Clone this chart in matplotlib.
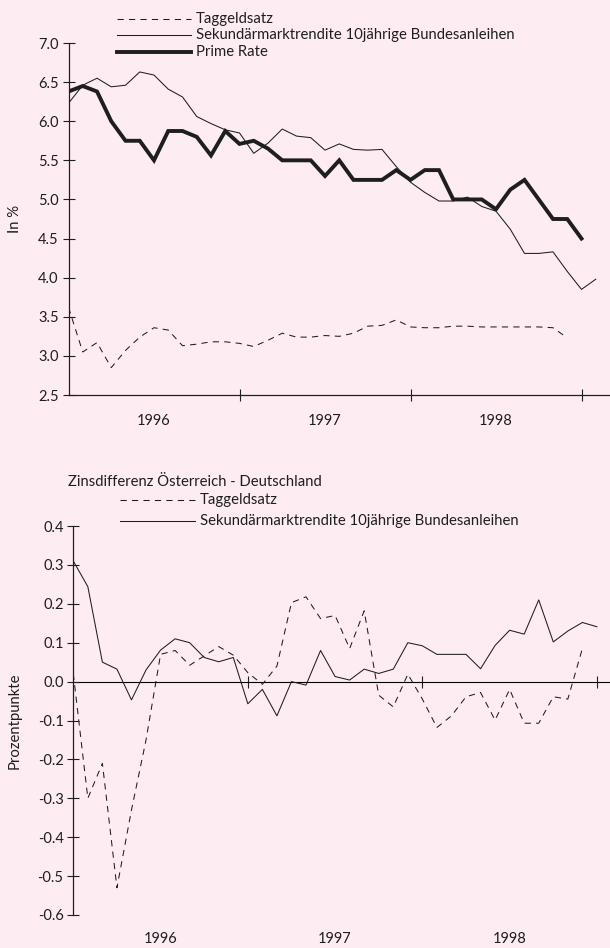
import matplotlib
matplotlib.use("Agg")
import matplotlib.pyplot as plt
from matplotlib.lines import Line2D
import numpy as np

plt.rcParams['font.family'] = ['Lato', 'DejaVu Sans']
plt.rcParams['axes.unicode_minus'] = False

# ---------------- data ----------------
year_labels = ["1996", "1997", "1998"]
year_bounds = [12, 24, 36]          # month index of year boundaries
year_mids = [6, 18, 30]

# Top chart (in %), monthly from Jan 1996
taggeld = [3.62, 3.05, 3.17, 2.85, 3.07, 3.24, 3.36, 3.33, 3.13, 3.15,
           3.18, 3.18, 3.16, 3.12, 3.20, 3.29, 3.24, 3.24, 3.26, 3.25,
           3.29, 3.38, 3.39, 3.46, 3.37, 3.36, 3.36, 3.38, 3.38, 3.37,
           3.37, 3.37, 3.37, 3.37, 3.36, 3.23]
sekundaer = [6.23, 6.46, 6.55, 6.44, 6.46, 6.63, 6.59, 6.41, 6.31, 6.06,
             5.97, 5.89, 5.85, 5.59, 5.72, 5.90, 5.81, 5.79, 5.63, 5.71,
             5.64, 5.63, 5.64, 5.42, 5.22, 5.09, 4.98, 4.98, 5.03, 4.91,
             4.85, 4.62, 4.31, 4.31, 4.33, 4.08, 3.85, 3.98]
prime = [6.38, 6.45, 6.38, 6.00, 5.75, 5.75, 5.50, 5.875, 5.875, 5.80,
         5.5625, 5.875, 5.71, 5.75, 5.65, 5.50, 5.50, 5.50, 5.30, 5.50,
         5.25, 5.25, 5.25, 5.375, 5.25, 5.375, 5.375, 5.00, 5.00, 5.00,
         4.875, 5.125, 5.25, 5.00, 4.75, 4.75, 4.50]

# Bottom chart (Prozentpunkte)
diff_taggeld = [0.02, -0.30, -0.21, -0.53, -0.33, -0.15, 0.07, 0.08, 0.042, 0.066,
                0.09, 0.068, 0.023, -0.007, 0.04, 0.203, 0.218, 0.162, 0.17, 0.085,
                0.182, -0.035, -0.065, 0.019, -0.045, -0.118, -0.088, -0.039, -0.028, -0.099,
                -0.02, -0.107, -0.107, -0.039, -0.045, 0.085]
diff_sekundaer = [0.31, 0.244, 0.05, 0.032, -0.047, 0.03, 0.081, 0.11, 0.10, 0.062,
                  0.051, 0.062, -0.057, -0.02, -0.088, 0.0, -0.009, 0.08, 0.013, 0.004,
                  0.032, 0.021, 0.032, 0.10, 0.092, 0.07, 0.07, 0.07, 0.033, 0.093,
                  0.132, 0.122, 0.21, 0.102, 0.13, 0.152, 0.141]

top_yticks = [2.5, 3.0, 3.5, 4.0, 4.5, 5.0, 5.5, 6.0, 6.5, 7.0]
bot_yticks = [-0.6, -0.5, -0.4, -0.3, -0.2, -0.1, 0.0, 0.1, 0.2, 0.3, 0.4]

# ---------------- style ----------------
BG = '#fdedf2'
INK = '#1e1e1e'
W, H = 610, 948
fig = plt.figure(figsize=(W / 100, H / 100), dpi=100, facecolor=BG)

def fx(px):
    return px / W

def fy(py):
    return 1 - py / H

dash = (0, (6, 5))
thin = 0.75
TXT = 10.7
TICK = 10.5

# ---------------- top chart ----------------
L1, R1 = 68.5, 610
ax1 = fig.add_axes([fx(L1), fy(395), fx(R1 - L1), (395 - 43) / H])
ax1.set_facecolor(BG)
ax1.plot(np.arange(len(taggeld)), taggeld, color=INK, lw=thin, linestyle=dash)
ax1.plot(np.arange(len(sekundaer)), sekundaer, color=INK, lw=thin)
ax1.plot(np.arange(len(prime)), prime, color=INK, lw=2.8, solid_joinstyle='miter')
ax1.set_xlim(0, 38.0)
ax1.set_ylim(2.5, 7.0)
ax1.set_yticks(top_yticks)
ax1.set_yticklabels([f"{v:.1f}" for v in top_yticks])
ax1.set_xticks(year_bounds)
ax1.set_xticklabels([])
ax1.set_xticks(year_mids, minor=True)
ax1.set_xticklabels(year_labels, minor=True)
ax1.set_ylabel("In %", fontsize=TXT, color=INK)
ax1.yaxis.set_label_coords(-(L1 - 22) / (R1 - L1), 0.5)

# ---------------- bottom chart ----------------
L2, R2 = 73.3, 610
ax2 = fig.add_axes([fx(L2), fy(915), fx(R2 - L2), (915 - 526) / H])
ax2.set_facecolor(BG)
ax2.plot(np.arange(len(diff_taggeld)), diff_taggeld, color=INK, lw=thin, linestyle=dash)
ax2.plot(np.arange(len(diff_sekundaer)), diff_sekundaer, color=INK, lw=thin)
ax2.set_xlim(0, 36.9)
ax2.set_ylim(-0.6, 0.4)
ax2.set_yticks(bot_yticks)
ax2.set_yticklabels([f"{v:.1f}" for v in bot_yticks])
ax2.set_xticks([])
ax2.set_xticks(year_mids, minor=True)
ax2.set_xticklabels(year_labels, minor=True)
ax2.set_ylabel("Prozentpunkte", fontsize=TXT, color=INK)
ax2.yaxis.set_label_coords(-(L2 - 22) / (R2 - L2), 0.5)
ax2.spines['bottom'].set_visible(False)
zero = ax2.secondary_xaxis(0.6)
zero.set_xticks(year_bounds)
zero.set_xticklabels([])
zero.tick_params(axis='x', direction='inout', length=8, width=0.8, color=INK)
zero.spines['bottom'].set_color(INK)
zero.spines['bottom'].set_linewidth(0.9)

for ax, xpad in ((ax1, 14), (ax2, 12)):
    for s in ('top', 'right'):
        ax.spines[s].set_visible(False)
    for s in ('left', 'bottom'):
        ax.spines[s].set_color(INK)
        ax.spines[s].set_linewidth(0.9)
    ax.tick_params(axis='y', direction='inout', length=8, width=0.8, color=INK,
                   labelsize=TICK, labelcolor=INK, pad=3)
    ax.tick_params(axis='x', which='major', direction='inout', length=8, width=0.8,
                   color=INK)
    ax.tick_params(axis='x', which='minor', length=0, labelsize=TICK,
                   labelcolor=INK, pad=xpad)

# ---------------- legends / titles ----------------
def legend_entry(x0, x1, y_px, label, **kw):
    fig.add_artist(Line2D([fx(x0), fx(x1)], [fy(y_px), fy(y_px)],
                          color=INK, transform=fig.transFigure, **kw))
    fig.text(fx(x1 + 5), fy(y_px), label, fontsize=TXT, color=INK,
             va='center', ha='left')

legend_entry(117, 191, 19, "Taggeldsatz", lw=thin, linestyle=dash)
legend_entry(117, 191, 35, "Sekundärmarktrendite 10jährige Bundesanleihen", lw=thin)
legend_entry(117, 191, 52, "Prime Rate", lw=2.8)

fig.text(fx(68), fy(482), "Zinsdifferenz Österreich - Deutschland", fontsize=TXT,
         color=INK, va='center', ha='left')

legend_entry(120, 195, 500, "Taggeldsatz", lw=thin, linestyle=dash)
legend_entry(120, 195, 521, "Sekundärmarktrendite 10jährige Bundesanleihen", lw=thin)

fig.savefig("out.png", dpi=100, facecolor=BG)
